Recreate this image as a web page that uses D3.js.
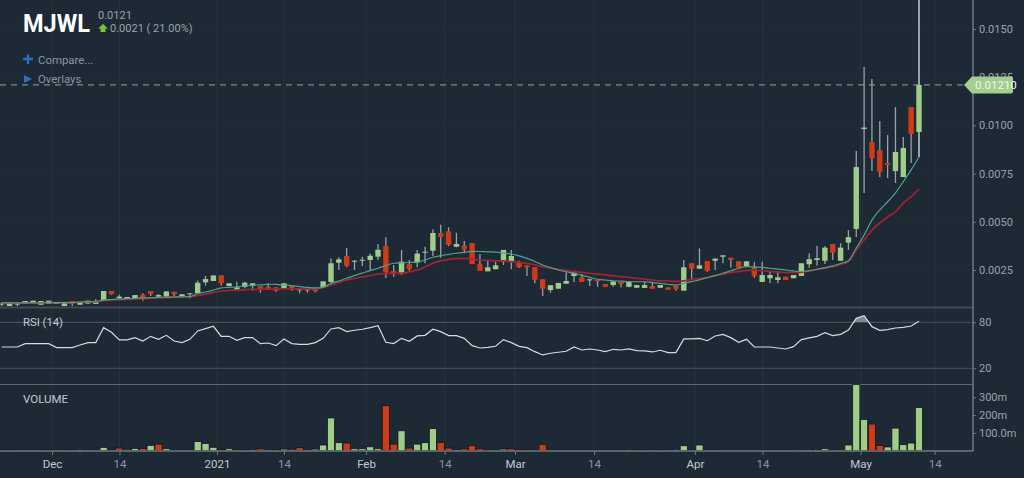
<!DOCTYPE html>
<html><head><meta charset="utf-8">
<script src="https://cdnjs.cloudflare.com/ajax/libs/d3/7.8.5/d3.min.js"></script>
<style>
html,body{margin:0;padding:0;background:#1d2935;overflow:hidden}
svg{display:block;font-family:Roboto,sans-serif}
</style></head><body>
<svg id="c" width="1024" height="478"></svg>
<script>
// Prices are in units of 0.0001
const open=[7.1,6.3,7.1,7.5,8.4,7.0,7.4,7.6,6.3,8.9,
7.0,7.6,7.4,9.3,14.1,10.5,10.0,10.5,12.2,14.1,
11.2,11.2,13.7,11.5,12.4,12.9,18.6,19.3,22.2,16.7,
14.6,16.3,16.9,16.7,16.3,16.0,15.5,16.7,14.5,14.5,
15.0,16.0,18.8,28.8,32.3,29.3,29.8,30.2,31.9,37.6,
24.5,23.6,28.1,29.0,34.0,35.0,44.2,45.1,37.1,37.6,
39.0,28.1,24.3,25.4,29.3,29.3,29.0,27.4,26.5,20.2,
14.6,15.3,17.9,21.9,21.2,19.6,20.0,17.7,17.2,18.9,
16.3,15.8,15.7,16.7,15.8,16.0,16.9,14.3,28.5,25.7,
29.7,29.8,31.9,31.4,29.5,26.9,26.7,18.8,20.7,19.8,
21.5,20.7,21.9,28.0,30.2,29.8,38.5,29.8,39.2,46.3,
98.1,91.4,87.2,80.5,76.3,73.2,109.5,96.6];
const close=[7.6,8.0,7.6,8.9,9.1,8.9,9.1,7.9,8.0,7.4,
8.2,9.1,8.8,14.1,12.5,11.2,11.0,12.0,10.0,12.5,
12.0,13.9,12.4,12.4,12.9,18.4,20.3,22.2,18.1,18.1,
16.0,18.4,18.1,15.2,15.0,14.3,18.1,15.5,15.0,15.0,
14.1,19.1,28.5,30.5,27.2,29.8,30.3,32.4,35.5,23.8,
22.9,29.3,25.5,33.5,34.5,44.2,42.1,38.1,38.5,35.7,
28.1,24.6,26.4,27.4,35.4,32.3,26.5,26.4,20.0,15.3,
17.1,18.3,19.3,23.6,18.8,20.2,19.1,16.3,19.1,17.7,
18.9,17.2,17.2,15.3,17.2,14.8,15.2,26.4,25.7,27.4,
24.6,30.9,32.6,30.2,26.2,29.5,22.0,22.4,22.4,21.2,
19.8,22.4,28.5,30.6,31.1,36.6,34.0,36.6,42.0,78.4,
98.9,83.1,75.8,79.5,86.2,88.3,95.6,121.0];
const high=[8.4,8.0,7.6,8.9,9.1,8.9,9.1,7.9,8.0,8.9,
8.2,9.1,9.8,14.1,14.1,12.2,11.0,12.0,12.9,14.1,
12.5,13.9,13.7,12.4,12.9,19.5,21.9,22.2,22.2,18.1,
18.9,18.9,18.1,16.7,18.1,16.0,18.1,16.7,15.0,15.0,
15.0,19.1,31.0,31.6,36.4,30.2,31.9,33.6,38.5,42.0,
27.6,35.4,30.2,35.4,37.1,46.1,48.5,47.1,44.3,40.0,
39.0,33.3,29.8,29.3,35.4,35.4,29.8,27.4,26.5,20.2,
17.1,18.3,23.8,24.0,22.9,20.2,20.0,17.7,19.1,18.9,
18.9,17.2,18.9,18.9,17.2,16.0,16.9,30.2,28.5,36.2,
29.7,30.9,32.6,31.4,29.5,29.5,29.0,29.3,24.1,24.1,
21.5,22.4,28.5,33.7,37.4,37.4,38.5,38.8,45.7,86.7,
130.3,124.1,102.3,95.0,109.5,94.0,109.5,170];
const low=[6.3,6.3,6.0,7.5,8.4,7.0,7.4,7.6,6.3,6.3,
7.0,7.6,7.4,9.3,12.2,10.0,10.0,10.5,9.1,11.5,
10.7,11.2,10.7,11.2,10.3,12.9,16.9,19.3,16.9,16.7,
14.6,15.5,14.3,13.2,15.0,13.7,15.5,14.3,12.9,13.2,
13.4,16.0,17.7,25.0,26.4,25.0,27.1,24.5,30.2,20.9,
21.5,22.4,24.6,26.4,28.5,32.3,31.4,37.4,36.8,33.7,
28.1,24.6,24.3,25.4,27.6,25.4,26.0,21.9,18.1,11.5,
13.2,15.3,17.9,18.8,18.8,16.7,16.3,16.3,16.3,16.0,
16.0,15.8,15.7,15.3,15.8,14.8,14.3,14.3,20.2,25.7,
24.1,25.0,28.5,26.2,26.2,26.9,21.0,18.8,18.1,18.1,
19.8,20.7,21.9,26.2,27.2,28.1,30.2,29.8,35.4,42.1,
64.9,76.3,73.2,72.7,70.1,73.2,80.5,83.6];
const slowAvg=[7.9,7.9,7.9,7.9,7.9,7.9,8.1,8.1,8.1,8.1,8.4,8.4,8.5,
9.1,9.3,9.6,9.8,10.0,10.2,10.4,10.6,10.7,10.9,11.0,11.2,
11.7,12.5,13.3,14.1,14.4,14.6,14.8,15.0,15.0,15.1,15.2,15.2,15.2,15.2,15.2,15.2,16.0,
17.2,18.5,19.8,20.6,21.4,22.1,22.9,23.2,23.3,23.3,24.1,25.0,26.5,28.5,29.7,30.5,30.9,31.0,30.7,30.2,30.0,29.8,29.7,29.3,29.0,28.4,27.6,26.7,25.9,25.4,24.8,24.3,23.8,23.3,22.9,22.5,22.0,21.6,21.2,20.7,20.3,19.8,19.4,19.3,19.1,19.4,20.1,20.6,21.2,22.1,22.9,23.8,24.3,24.7,25.0,24.6,24.3,24.0,23.6,23.6,23.8,24.5,25.2,25.9,26.7,27.9,29.3,35.4,40.6,45.7,49.4,52.5,55.1,59.8,62.9,67.0];
const fastAvg=[7.9,7.9,7.9,7.9,7.9,7.9,8.1,8.1,8.1,8.1,8.4,8.5,8.7,
9.4,9.7,10.0,10.1,10.3,10.5,10.6,10.8,10.9,11.0,11.1,11.2,
12.8,13.6,14.6,15.7,16.0,16.3,16.7,17.1,17.3,17.6,17.5,17.2,16.9,16.4,16.0,15.7,16.0,
18.1,19.3,20.7,22.1,23.4,24.7,25.9,27.3,28.5,28.7,28.9,29.0,30.2,31.6,32.5,33.1,33.7,34.2,34.7,34.6,34.4,34.3,33.8,33.3,32.3,31.0,29.4,27.6,26.2,25.0,24.1,23.3,22.2,21.2,20.2,19.8,19.4,19.2,18.9,18.9,18.9,18.5,18.1,17.6,17.2,18.1,19.0,19.9,21.0,22.1,23.3,24.6,25.9,26.7,26.5,26.4,25.9,25.5,25.0,24.5,24.1,24.7,25.4,26.2,27.1,28.4,29.8,36.4,43.1,50.9,56.1,60.4,65.0,70.8,76.9,83.6];
const rsi=[47.8,47.8,47.8,52.2,52.2,52.2,52.2,47,47,47,50.4,53.5,53.5,73,67,57,57,60,55.6,61.7,57.8,63,55.6,53.5,57.8,68.7,71.7,74.8,61.7,61.7,56.5,60,60,52.2,53,49.6,58.3,52.2,51.3,51.3,53.5,59.1,71.3,73,
67.8,69.6,70.9,73,75.6,53.9,52.2,59.1,55.2,62.2,63,70.9,67.8,62.6,62.6,59.1,49.6,46.5,47.4,48.7,57.4,53.5,48.7,47,41.7,37.4,39.6,40.9,42.2,47.8,43.9,45.2,43.9,41.7,44.8,43.9,45.2,43,42.6,41.3,43.5,40.4,40.4,
58.3,58.3,59.1,56,62.2,64.3,60,53.9,57.8,47.8,47.8,47.8,46.5,45.2,48.2,57.4,59.6,61.7,66.5,62.6,64.3,70,85.2,88.7,74.3,69.6,70.4,72.6,73.5,75.2,81.3];
// Volume in millions
const volume=[4,4,2,2,2,2,4,2,2,6,7.5,2,2,19,6,15,7.5,13,13,30,37,11,2,2,2,52,41,19,7.5,11,7.5,2,7.5,11,2,7.5,9,9,17,2,9,32,184,45,
43,11,11,22,11,253,37,112,15,37,45,124,47,15,6,11,28,11,2,2,9,11,7.5,7.5,2,34,2,2,2,2,2,2,2,2,2,2,7.5,6,2,7.5,2,2,7.5,
28,2,32,2,2,1,1,1,1,1,1,2,2,2,1,1,7.5,7.5,11,2,6,32,371,176,150,30,21,127,34,43,243];
const volumeRedBars=[9,14,15,18,20,28,30,33,35,37,38,44,49,50,52,56,57,59,60,61,65,66,67,69,81,83,111,112];
const priceTicks=[25,50,75,100,125,150];
const rsiTicks=[20,80];
const volumeTicks=[100,200,300];
const volumeLabels=["100.0m","200m","300m"];
const xTickPos=[6.42,15.03,27.46,36.0,46.47,56.5,65.47,75.55,88.43,97.04,109.54,119.0];
const xTickText=["Dec","14","2021","14","Feb","14","Mar","14","Apr","14","May","14"];

const svg=d3.select("#c");
const bg="#1d2935";
const up="#9fcd87",down="#cf3a17",wick="#98a2aa";
const axisX=973;
svg.append("rect").attr("width",1024).attr("height",478).attr("fill",bg);

const x=d3.scaleLinear().domain([0,117]).range([1.7,918.98]);
const y=d3.scaleLinear().domain([0,150]).range([318.2,29]);
const yR=d3.scaleLinear().domain([20,80]).range([368.3,322.3]);
const yV=d3.scaleLinear().domain([0,100]).range([450.7,432.9]);
const idx=d3.range(open.length);

const defs=svg.append("defs");
defs.append("clipPath").attr("id","pc").append("rect").attr("x",0).attr("y",0).attr("width",axisX).attr("height",306);
defs.append("clipPath").attr("id","vc").append("rect").attr("x",0).attr("y",384).attr("width",axisX).attr("height",67);
defs.append("clipPath").attr("id","ob").append("rect").attr("x",0).attr("y",300).attr("width",axisX).attr("height",yR(80)-300);

// Grid
svg.append("g").selectAll("line").data(xTickPos).join("line")
 .attr("x1",d=>x(d)).attr("x2",d=>x(d)).attr("y1",0).attr("y2",451)
 .attr("stroke","#273541").attr("stroke-width",1);
svg.append("g").selectAll("line").data(priceTicks).join("line")
 .attr("x1",0).attr("x2",axisX).attr("y1",d=>y(d)).attr("y2",d=>y(d))
 .attr("stroke","#212e3a").attr("stroke-width",1);

// Panel rules
svg.append("line").attr("x1",0).attr("x2",axisX).attr("y1",307.5).attr("y2",307.5).attr("stroke","#3f4c57").attr("stroke-width",2);
svg.append("line").attr("x1",0).attr("x2",axisX).attr("y1",384.5).attr("y2",384.5).attr("stroke","#5d6a74").attr("stroke-width",1);
svg.append("g").selectAll("line").data(rsiTicks).join("line")
 .attr("x1",0).attr("x2",axisX).attr("y1",d=>yR(d)).attr("y2",d=>yR(d))
 .attr("stroke","#45525d").attr("stroke-width",1);

// Candles
const cg=svg.append("g").attr("clip-path","url(#pc)");
cg.selectAll("line").data(idx).join("line")
 .attr("x1",i=>x(i)).attr("x2",i=>x(i)).attr("y1",i=>y(high[i])).attr("y2",i=>y(low[i]))
 .attr("stroke",wick).attr("stroke-width",i=>i==117?2:1.3);
cg.selectAll("rect").data(idx).join("rect")
 .attr("x",i=>x(i)-2.7).attr("width",5.4)
 .attr("y",i=>y(Math.max(open[i],close[i])))
 .attr("height",i=>Math.max(1,Math.abs(y(open[i])-y(close[i]))))
 .attr("fill",i=>close[i]>=open[i]?up:down);

// Averages
const ln=a=>d3.line().x((d,i)=>x(i)).y(d=>y(d)).curve(d3.curveMonotoneX)(a);
cg.append("path").attr("d",ln(slowAvg)).attr("fill","none").attr("stroke","#a9202f").attr("stroke-width",1.7);
cg.append("path").attr("d",ln(fastAvg)).attr("fill","none").attr("stroke","#4aa58a").attr("stroke-width",1.2);

// RSI
const rsiLine=d3.line().x((d,i)=>x(i)).y(d=>yR(d));
const rsiArea=d3.area().x((d,i)=>x(i)).y0(yR(80)).y1(d=>yR(d));
svg.append("path").attr("d",rsiArea(rsi)).attr("clip-path","url(#ob)").attr("fill","#7d8790");
svg.append("path").attr("d",rsiLine(rsi)).attr("fill","none").attr("stroke","#d5dadd").attr("stroke-width",1.2);

// Volume
svg.append("g").attr("clip-path","url(#vc)").selectAll("rect").data(idx).join("rect")
 .attr("x",i=>x(i)-3.6).attr("width",7.2)
 .attr("y",i=>yV(volume[i])).attr("height",i=>yV(0)-yV(volume[i]))
 .attr("fill",i=>volumeRedBars.includes(i)?"#cf3a17":"#9fcd87")
 .attr("stroke","#10161c").attr("stroke-width",0.8);

// Right axis
svg.append("line").attr("x1",axisX).attr("x2",axisX).attr("y1",0).attr("y2",451).attr("stroke","#6c7882").attr("stroke-width",1.5);
function styleAxis(g,col){
 g.select(".domain").remove();
 g.selectAll("line").attr("stroke","#6c7882");
 g.selectAll("text").attr("fill",col||"#98a3ab").attr("font-size",11).attr("font-family","Roboto,sans-serif");
}
svg.append("g").attr("transform",`translate(${axisX},0)`)
 .call(d3.axisRight(y).tickValues(priceTicks).tickSize(3).tickPadding(3).tickFormat(d=>(d/10000).toFixed(4))).call(styleAxis);
svg.append("g").attr("transform",`translate(${axisX},0)`)
 .call(d3.axisRight(yR).tickValues(rsiTicks).tickSize(3).tickPadding(3)).call(styleAxis);
svg.append("g").attr("transform",`translate(${axisX},0)`)
 .call(d3.axisRight(yV).tickValues(volumeTicks).tickSize(3).tickPadding(3).tickFormat((d,i)=>volumeLabels[i])).call(styleAxis);

// Bottom axis
svg.append("line").attr("x1",0).attr("x2",axisX).attr("y1",451).attr("y2",451).attr("stroke","#6c7882").attr("stroke-width",1.5);
const bx=svg.append("g").attr("transform","translate(0,451)")
 .call(d3.axisBottom(x).tickValues(xTickPos).tickSize(4).tickPadding(5).tickFormat((d,i)=>xTickText[i]));
styleAxis(bx);
bx.selectAll("text").attr("font-size",11.5).attr("fill",(d,i)=>xTickText[i]=="14"?"#8b969e":"#c2cad0");

// Last price
const lastY=y(close[close.length-1]);
svg.append("line").attr("x1",0).attr("x2",964).attr("y1",lastY).attr("y2",lastY)
 .attr("stroke","#8fae8f").attr("stroke-width",1).attr("stroke-dasharray","6 5");
const tag=d3.path();
tag.moveTo(964,lastY);tag.lineTo(972,lastY-8.5);tag.lineTo(1011,lastY-8.5);tag.quadraticCurveTo(1013,lastY-8.5,1013,lastY-6.5);
tag.lineTo(1013,lastY+6.5);tag.quadraticCurveTo(1013,lastY+8.5,1011,lastY+8.5);tag.lineTo(972,lastY+8.5);tag.closePath();
svg.append("path").attr("d",tag.toString()).attr("fill","#a3ce8c");
svg.append("text").attr("x",975).attr("y",lastY+4).attr("fill","#f2f6ef").attr("font-size",11.5).text((close[close.length-1]/10000).toFixed(5));

// Header
const T=(t,xx,yy,s,c,w)=>svg.append("text").attr("x",xx).attr("y",yy).attr("font-size",s).attr("fill",c).attr("font-weight",w||400).text(t);
T("MJWL",23,32,26.5,"#ffffff",700).attr("textLength",67).attr("lengthAdjust","spacingAndGlyphs");
T("0.0121",98,19,11,"#98a3ab");
svg.append("path").attr("d","M103 24 L108 28.5 L105.5 28.5 L105.5 32 L100.5 32 L100.5 28.5 L98 28.5 Z").attr("fill","#7fc12f");
T("0.0021 ( 21.00%)",110,32,11,"#98a3ab");
svg.append("path").attr("d","M23 59 H33 M28 54.5 V64").attr("stroke","#2a6fc4").attr("stroke-width",2.4).attr("fill","none");
T("Compare...",38,64,11.4,"#8b969e");
svg.append("path").attr("d","M24 75 L32 79 L24 83 Z").attr("fill","#2a6fc4");
T("Overlays",38,83,11.4,"#8b969e");
T("RSI (14)",23,326,11.3,"#c2cad0");
T("VOLUME",23,403,11.5,"#c2cad0");
</script>
</body></html>
